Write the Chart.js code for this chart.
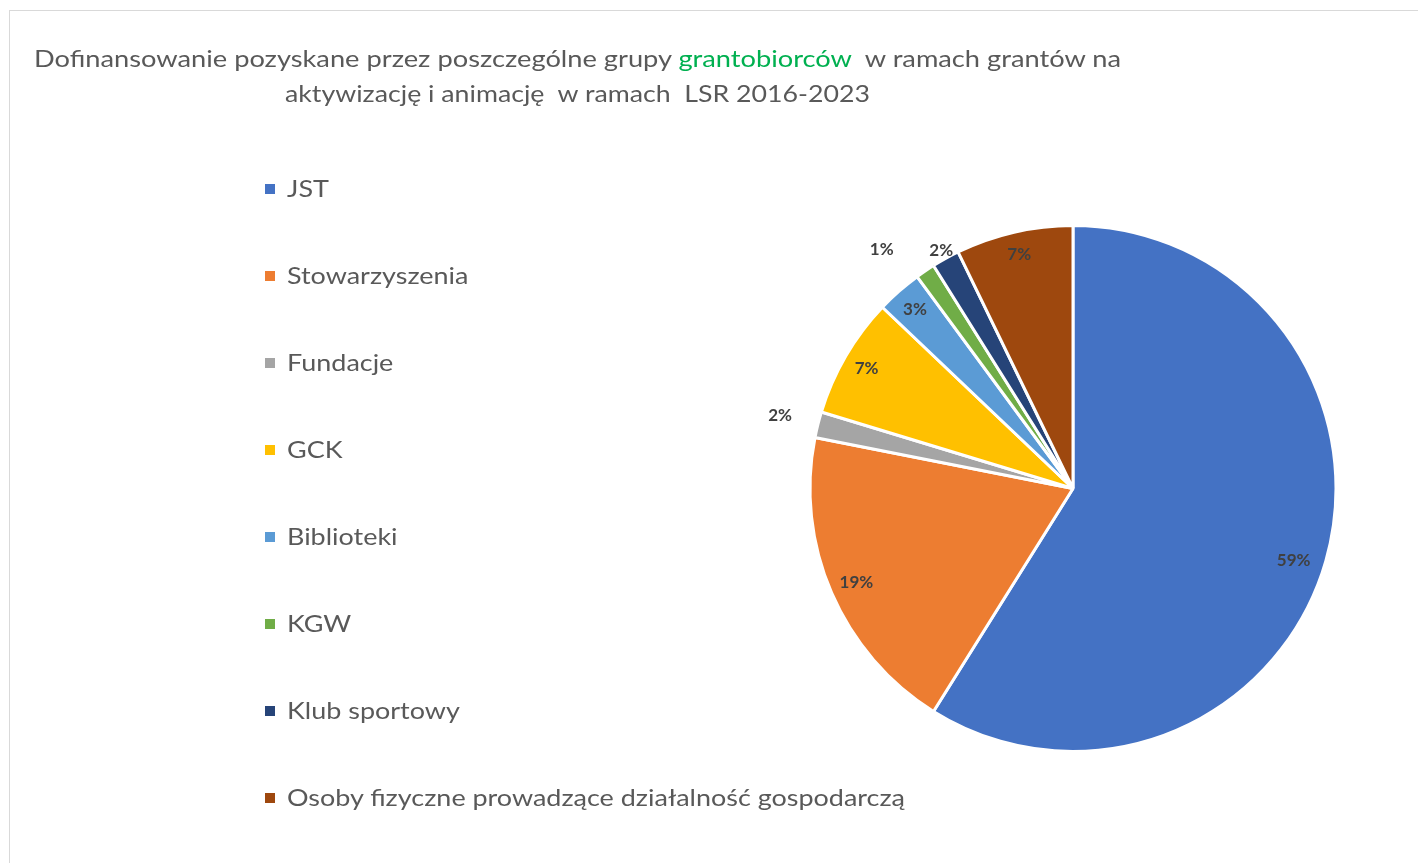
<!DOCTYPE html>
<html>
<head>
<meta charset="utf-8">
<script src="https://cdn.jsdelivr.net/npm/chart.js@4"></script>
<style>
  body { margin: 0; background: #fff; }
  #wrap { position: relative; width: 1418px; height: 863px; overflow: hidden; }
  #frame { position: absolute; left: 9px; top: 10px; width: 1420px; height: 870px;
           border-left: 1px solid #d9d9d9; border-top: 1px solid #d9d9d9; }
  canvas { position: absolute; left: 0; top: 0; }
  .txt { position: absolute; font-family: Lato, sans-serif; color: #595959; white-space: pre;
         transform-origin: left center; line-height: 30px; }
  .title { font-size: 24px; }
  .green { color: #00B050; }
  .lg { font-size: 24px; }
  .sq { position: absolute; width: 10px; height: 10px; }
</style>
</head>
<body>
<div id="wrap">
  <div id="frame"></div>
  <canvas id="pie" width="1418" height="863"></canvas>
  <div class="txt title" id="t1" style="left:34px; top:43px">Dofinansowanie pozyskane przez poszczególne grupy <span class="green">grantobiorców</span>  w ramach grantów na</div>
  <div class="txt title" id="t2" style="left:285px; top:78px">aktywizację i animację  w ramach  LSR 2016-2023</div>
</div>
<script>
var categories = ["JST", "Stowarzyszenia", "Fundacje", "GCK", "Biblioteki", "KGW", "Klub sportowy", "Osoby fizyczne prowadzące działalność gospodarczą"];
var shares = [58.9, 19.2, 1.6, 7.4, 2.8, 1.2, 1.7, 7.2];
var colors = ['#4472C4', '#ED7D31', '#A5A5A5', '#FFC000', '#5B9BD5', '#70AD47', '#264478', '#9E480E'];
// distance of each percent label from the pie centre, and a small turn (degrees)
var labelRadius = [232, 236, 302, 239, 239, 306, 272, 240];
var labelTurn = [2, 0, 0, 0, 0, -4.5, 0, 0];

var wrap = document.getElementById("wrap");

// legend on the left
var legendTop = 189, legendStep = 87;
var legendEls = [];
categories.forEach(function (name, i) {
    var y = legendTop + i * legendStep;
    var sq = document.createElement("div");
    sq.className = "sq";
    sq.style.left = "265px";
    sq.style.top = (y - 5) + "px";
    sq.style.background = colors[i];
    wrap.appendChild(sq);
    var t = document.createElement("div");
    t.className = "txt lg";
    t.style.left = "287px";
    t.style.top = (y - 16) + "px";
    t.textContent = name;
    wrap.appendChild(t);
    legendEls.push(t);
});

function fit(el, target) {
    var w = el.getBoundingClientRect().width;
    el.style.transform = "scaleX(" + (target / w) + ")";
}
fit(document.getElementById("t1"), 1087);
fit(document.getElementById("t2"), 585);
var s = legendEls[7].getBoundingClientRect().width;
legendEls.forEach(function (el) { el.style.transform = "scaleX(" + (618 / s) + ")"; });

var pctLabels = {
    id: 'pctLabels',
    afterDatasetsDraw: function (chart) {
        var ctx = chart.ctx;
        var meta = chart.getDatasetMeta(0);
        var total = shares.reduce(function (a, b) { return a + b; }, 0);
        ctx.save();
        ctx.font = "bold 17px Lato, sans-serif";
        ctx.fillStyle = "#404040";
        ctx.textAlign = "center";
        ctx.textBaseline = "middle";
        meta.data.forEach(function (arc, i) {
            var p = arc.getProps(['x', 'y', 'startAngle', 'endAngle'], true);
            var mid = (p.startAngle + p.endAngle) / 2 + labelTurn[i] * Math.PI / 180;
            var x = p.x + Math.cos(mid) * labelRadius[i];
            var y = p.y + Math.sin(mid) * labelRadius[i];
            ctx.fillText(Math.round(shares[i] / total * 100) + "%", x, y);
        });
        ctx.restore();
    }
};

var ctx = document.getElementById("pie").getContext('2d');
var myPieChart = new Chart(ctx, {
    type: 'pie',
    data: {
        labels: categories,
        datasets: [{
            data: shares,
            backgroundColor: colors,
            borderColor: '#ffffff',
            borderWidth: 3
        }]
    },
    options: {
        responsive: false,
        animation: false,
        radius: 263,
        layout: { padding: { left: 808, right: 80, top: 224, bottom: 110 } },
        plugins: {
            legend: { display: false },
            title: { display: false },
            tooltip: { enabled: false }
        }
    },
    plugins: [pctLabels]
});
</script>
</body>
</html>
